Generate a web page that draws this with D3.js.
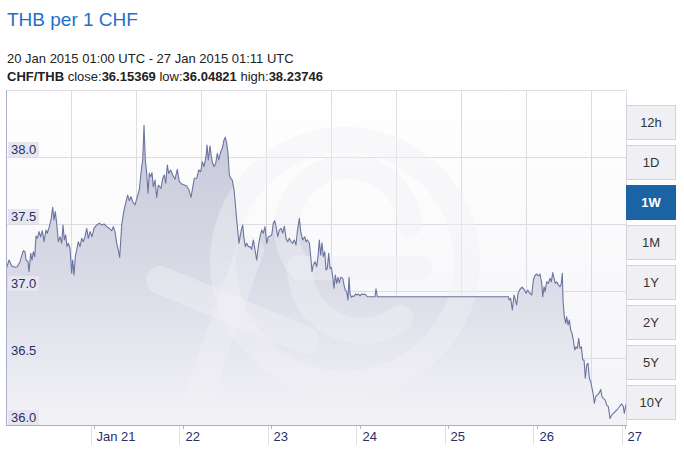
<!DOCTYPE html>
<html>
<head>
<meta charset="utf-8">
<script src="https://cdn.jsdelivr.net/npm/d3@7"></script>
<style>
  html, body { margin: 0; padding: 0; background: #fff; }
  svg { display: block; font-family: "Liberation Sans", Arial, sans-serif; }
</style>
</head>
<body>
<svg id="chart" width="684" height="449"></svg>
<script>
// ---------------- data ----------------
const titleText = "THB per 1 CHF";
const rangeText = "20 Jan 2015 01:00 UTC - 27 Jan 2015 01:11 UTC";
const pairName = "CHF/THB";
const closeValue = "36.15369";
const lowValue = "36.04821";
const highValue = "38.23746";
const startTime = Date.UTC(2015, 0, 20, 1, 0);
const endTime = Date.UTC(2015, 0, 27, 1, 11);

const hoursFromStart = [
  0, 0.81, 1.55, 2.44, 3.07, 3.80, 4.69, 5.15, 5.43, 5.97,
  6.24, 6.70, 7.05, 7.41, 7.79, 8.14, 8.49, 8.95, 9.41, 9.85,
  10.31, 10.85, 11.20, 11.75, 12.21, 12.67, 13.02, 13.37, 13.75, 14.19,
  14.65, 15.11, 15.46, 15.82, 16.20, 16.55, 16.90, 17.36, 17.82, 18.09,
  18.45, 18.80, 19.18, 19.61, 20.07, 20.54, 20.97, 21.43, 21.89, 22.33,
  22.79, 23.33, 23.87, 24.60, 25.31, 25.96, 26.59, 27.32, 28.02, 28.67,
  29.11, 29.57, 30.03, 30.46, 30.84, 31.39, 32.01, 32.55, 33.01, 33.45,
  33.91, 34.37, 35.00, 35.62, 36.16, 36.70, 37.08, 37.44, 37.79, 38.17,
  38.52, 38.87, 39.25, 39.61, 39.96, 40.42, 40.88, 41.32, 42.05, 42.51,
  42.94, 43.32, 43.76, 44.14, 44.68, 45.22, 45.85, 46.47, 47.01, 47.66,
  48.37, 49.02, 49.64, 50.19, 50.54, 51.08, 51.73, 52.28, 52.82, 53.25,
  53.71, 54.25, 54.53, 54.88, 55.34, 55.69, 56.07, 56.43, 56.89, 57.32,
  57.70, 58.24, 58.68, 59.14, 59.49, 59.87, 60.22, 60.58, 60.96, 61.39,
  61.85, 62.20, 62.59, 62.94, 63.21, 63.48, 63.83, 64.21, 64.56, 64.92,
  65.29, 65.73, 66.19, 66.65, 67.09, 67.55, 68.01, 68.44, 68.90, 69.36,
  69.80, 70.26, 70.72, 71.16, 71.62, 72.08, 72.51, 72.89, 73.24, 73.71,
  74.14, 74.60, 75.06, 75.50, 75.96, 76.42, 76.85, 77.31, 77.77, 78.21,
  78.67, 79.02, 79.57, 79.95, 80.49, 81.03, 81.38, 81.74, 82.28, 82.66,
  83.01, 83.36, 83.82, 84.28, 84.64, 84.99, 85.37, 85.72, 86.08, 86.46,
  86.81, 87.16, 87.54, 87.89, 88.25, 88.63, 88.98, 89.33, 89.71, 90.06,
  90.42, 90.80, 91.34, 91.69, 92.04, 92.42, 92.77, 93.05, 93.32, 93.67,
  94.05, 94.40, 94.76, 95.14, 95.57, 96.03, 96.49, 96.93, 97.47, 98.01,
  99.21, 100.10, 100.37, 100.72, 136.26, 136.53, 136.91, 137.35, 137.81, 138.17,
  138.54, 138.89, 139.44, 139.98, 140.52, 141.07, 141.53, 141.96, 142.61, 143.05,
  143.42, 143.97, 144.40, 144.86, 145.33, 145.60, 145.95, 146.22, 146.68, 147.11,
  147.58, 147.93, 148.31, 148.66, 149.01, 149.39, 149.83, 150.29, 150.64, 150.91,
  151.10, 151.45, 151.83, 152.10, 152.46, 152.81, 153.19, 153.54, 153.90, 154.28,
  154.63, 154.98, 155.36, 155.71, 156.07, 156.45, 156.80, 157.15, 157.53, 157.88,
  158.24, 158.62, 158.97, 159.32, 159.59, 159.97, 160.41, 160.87, 161.33, 161.68,
  162.04, 162.50, 162.96, 163.39, 163.85, 164.31, 164.74, 165.21, 165.67, 166.10,
  166.56, 167.02, 167.45, 167.73, 168.18
];

const rates = [
  37.157, 37.231, 37.187, 37.177, 37.181, 37.219, 37.301, 37.293, 37.231, 37.219,
  37.144, 37.281, 37.231, 37.293, 37.256, 37.410, 37.393, 37.443, 37.405, 37.450,
  37.368, 37.455, 37.431, 37.480, 37.530, 37.625, 37.530, 37.592, 37.505, 37.368,
  37.405, 37.356, 37.493, 37.381, 37.418, 37.331, 37.356, 37.319, 37.132, 37.231,
  37.119, 37.256, 37.306, 37.368, 37.331, 37.393, 37.368, 37.405, 37.468, 37.393,
  37.443, 37.405, 37.468, 37.493, 37.505, 37.493, 37.500, 37.480, 37.468, 37.450,
  37.480, 37.443, 37.356, 37.306, 37.251, 37.493, 37.604, 37.666, 37.716, 37.674,
  37.704, 37.666, 37.642, 37.704, 37.754, 37.903, 37.978, 38.237, 37.978, 37.878,
  37.729, 37.878, 37.853, 37.883, 37.778, 37.828, 37.699, 37.791, 37.766, 37.841,
  37.866, 37.804, 37.940, 37.878, 37.903, 37.866, 37.834, 37.908, 37.816, 37.799,
  37.791, 37.784, 37.754, 37.699, 37.754, 37.841, 37.841, 37.903, 37.890, 37.965,
  37.928, 38.002, 38.090, 37.978, 38.082, 38.002, 37.953, 37.928, 37.953, 38.028,
  37.978, 38.040, 38.065, 38.127, 38.147, 38.102, 38.028, 37.866, 37.841, 37.828,
  37.754, 37.654, 37.530, 37.431, 37.356, 37.405, 37.455, 37.493, 37.393, 37.331,
  37.356, 37.331, 37.331, 37.311, 37.381, 37.306, 37.231, 37.331, 37.405, 37.455,
  37.431, 37.480, 37.356, 37.405, 37.410, 37.418, 37.505, 37.525, 37.480, 37.405,
  37.455, 37.468, 37.431, 37.485, 37.393, 37.368, 37.393, 37.368, 37.356, 37.381,
  37.343, 37.443, 37.543, 37.443, 37.381, 37.405, 37.368, 37.381, 37.360, 37.256,
  37.144, 37.194, 37.219, 37.181, 37.256, 37.381, 37.269, 37.360, 37.256, 37.293,
  37.157, 37.169, 37.281, 37.169, 37.177, 37.107, 37.020, 37.119, 37.057, 37.102,
  37.062, 37.102, 37.095, 37.045, 37.007, 36.995, 36.933, 37.102, 36.983, 36.953,
  36.963, 36.958, 36.978, 36.970, 36.978, 36.963, 36.978, 36.975, 36.975, 36.957,
  36.957, 36.957, 37.017, 36.957, 36.957, 36.933, 36.945, 36.858, 36.970, 36.933,
  36.896, 36.983, 37.013, 37.028, 37.013, 36.983, 37.007, 36.987, 36.970, 37.082,
  37.112, 37.127, 37.112, 37.127, 37.057, 36.957, 37.032, 36.995, 37.069, 37.057,
  37.095, 37.069, 37.137, 37.095, 37.057, 37.069, 37.045, 37.032, 37.057, 37.132,
  36.933, 36.808, 36.759, 36.808, 36.746, 36.784, 36.709, 36.684, 36.634, 36.560,
  36.584, 36.572, 36.647, 36.572, 36.584, 36.485, 36.485, 36.349, 36.448, 36.460,
  36.349, 36.323, 36.274, 36.224, 36.162, 36.211, 36.224, 36.237, 36.266, 36.211,
  36.199, 36.187, 36.149, 36.137, 36.048, 36.075, 36.087, 36.099, 36.112, 36.125,
  36.142, 36.157, 36.137, 36.087, 36.154
];

const yTicks = [36.0, 36.5, 37.0, 37.5, 38.0];
const yDomain = [36.0, 38.5];
const dayTickLabels = ["Jan 21", "22", "23", "24", "25", "26", "27"];
const rangeButtons = ["12h", "1D", "1W", "1M", "1Y", "2Y", "5Y", "10Y"];
const selectedButton = "1W";

// ---------------- layout ----------------
const svg = d3.select("#chart");
const plot = { left: 6, right: 626, top: 90, bottom: 425 };

const data = hoursFromStart.map((h, i) => ({
  t: new Date(startTime + h * 3600e3),
  v: rates[i]
}));

const x = d3.scaleUtc().domain([new Date(startTime), new Date(endTime)]).range([plot.left, plot.right]);
const y = d3.scaleLinear().domain(yDomain).range([plot.bottom, plot.top]);

const defs = svg.append("defs");
const bgGrad = defs.append("linearGradient").attr("id", "bgGrad")
  .attr("gradientUnits", "userSpaceOnUse").attr("x1", 0).attr("x2", 0)
  .attr("y1", plot.top).attr("y2", plot.bottom);
bgGrad.append("stop").attr("offset", "0%").attr("stop-color", "#ffffff");
bgGrad.append("stop").attr("offset", "100%").attr("stop-color", "#f4f4f8");

const areaGrad = defs.append("linearGradient").attr("id", "areaGrad")
  .attr("gradientUnits", "userSpaceOnUse").attr("x1", 0).attr("x2", 0)
  .attr("y1", plot.top).attr("y2", plot.bottom);
areaGrad.append("stop").attr("offset", "0%").attr("stop-color", "#c2c5d7");
areaGrad.append("stop").attr("offset", "55%").attr("stop-color", "#d9dae6");
areaGrad.append("stop").attr("offset", "100%").attr("stop-color", "#f3f3f7");

defs.append("clipPath").attr("id", "plotClip").append("rect")
  .attr("x", plot.left).attr("y", plot.top)
  .attr("width", plot.right - plot.left).attr("height", plot.bottom - plot.top);

// ---------------- header ----------------
svg.append("text").attr("x", 7).attr("y", 26)
  .attr("font-size", 19).attr("fill", "#1f6fc6").text(titleText);

svg.append("text").attr("x", 7).attr("y", 63)
  .attr("font-size", 13).attr("fill", "#222").text(rangeText);

const info = svg.append("text").attr("x", 7).attr("y", 81)
  .attr("font-size", 13).attr("fill", "#222");
[[pairName, true], [" close:", false], [closeValue, true], [" low:", false],
 [lowValue, true], [" high:", false], [highValue, true]].forEach(([s, b]) => {
  info.append("tspan").attr("font-weight", b ? "bold" : "normal").text(s);
});

// ---------------- plot background & grid ----------------
svg.append("rect").attr("x", plot.left).attr("y", plot.top)
  .attr("width", plot.right - plot.left).attr("height", plot.bottom - plot.top)
  .attr("fill", "url(#bgGrad)");

const grid = svg.append("g").attr("stroke", "#dcdce2").attr("stroke-width", 1);
grid.selectAll("line.h").data(y.ticks(5).concat([yDomain[1]])).join("line")
  .attr("x1", plot.left).attr("x2", plot.right)
  .attr("y1", d => Math.round(y(d)) + 0.5).attr("y2", d => Math.round(y(d)) + 0.5);
const vGridStep = 65;
grid.selectAll("line.v").data(d3.range(plot.left + vGridStep, plot.right, vGridStep)).join("line")
  .attr("x1", d => Math.round(d) + 0.5).attr("x2", d => Math.round(d) + 0.5)
  .attr("y1", plot.top).attr("y2", plot.bottom);
grid.append("line").attr("x1", plot.right + 0.5).attr("x2", plot.right + 0.5)
  .attr("y1", plot.top).attr("y2", plot.bottom);

// ---------------- area & line ----------------
const g = svg.append("g").attr("clip-path", "url(#plotClip)");
g.append("path").datum(data)
  .attr("fill", "url(#areaGrad)")
  .attr("d", d3.area().x(d => x(d.t)).y0(plot.bottom).y1(d => y(d.v)));

// watermark (xe logo, very faint)
const wm = g.append("g").attr("fill", "none").attr("stroke", "rgba(240,240,245,0.42)").attr("stroke-linecap", "round");
wm.append("circle").attr("cx", 345).attr("cy", 262).attr("r", 122).attr("stroke-width", 26);
wm.append("path").attr("stroke-width", 24).attr("d", "M 420 268 L 300 268 A 62 62 0 1 1 410 225");
wm.append("path").attr("stroke-width", 26).attr("d", "M 300 268 A 62 62 0 0 0 400 318");
wm.append("line").attr("stroke-width", 28).attr("x1", 160).attr("y1", 280).attr("x2", 305).attr("y2", 340);
wm.append("line").attr("stroke-width", 28).attr("x1", 250).attr("y1", 250).attr("x2", 190).attr("y2", 420);

g.append("path").datum(data)
  .attr("fill", "none").attr("stroke", "#6c74a0").attr("stroke-width", 1.1)
  .attr("stroke-linejoin", "round")
  .attr("d", d3.line().x(d => x(d.t)).y(d => y(d.v)));

// ---------------- axes ----------------
svg.append("line").attr("x1", plot.left + 0.5).attr("x2", plot.left + 0.5)
  .attr("y1", plot.top).attr("y2", plot.bottom).attr("stroke", "#a8aecb");
svg.append("line").attr("x1", plot.left).attr("x2", plot.right + 1)
  .attr("y1", plot.bottom + 0.5).attr("y2", plot.bottom + 0.5).attr("stroke", "#a8aecb");

// y labels with boxes
const yLab = svg.append("g");
yTicks.forEach(v => {
  const yy = Math.round(y(v));
  yLab.append("rect").attr("x", 8).attr("y", yy - 15).attr("width", 31).attr("height", 15)
    .attr("fill", "#e6e6f0");
  yLab.append("text").attr("x", 11).attr("y", yy - 3).attr("font-size", 13)
    .attr("fill", "#2d2d66").text(d3.format(".1f")(v));
});

// day ticks
const days = d3.utcDay.range(d3.utcDay.ceil(new Date(startTime)), new Date(endTime));
const xAxis = svg.append("g");
days.forEach((d, i) => {
  const xx = Math.round(x(d)) + 0.5;
  xAxis.append("line").attr("x1", xx).attr("x2", xx).attr("y1", plot.bottom + 1).attr("y2", 445)
    .attr("stroke", "#dedee4");
  const xt = Math.round(x(new Date(+d + 3600e3))) + 0.5;
  xAxis.append("line").attr("x1", xt).attr("x2", xt).attr("y1", plot.bottom + 1).attr("y2", plot.bottom + 4)
    .attr("stroke", "#b0b4cc");
  xAxis.append("text").attr("x", xt + 2).attr("y", 441).attr("font-size", 13)
    .attr("fill", "#2d2d66").text(dayTickLabels[i]);
});

// ---------------- range buttons ----------------
const btn = svg.append("g");
rangeButtons.forEach((b, i) => {
  const by = 105 + i * 40;
  const sel = b === selectedButton;
  btn.append("rect").attr("x", 626.5).attr("y", by + 0.5).attr("width", 49).attr("height", 34)
    .attr("fill", sel ? "#1c63a6" : "#f0f0f4").attr("stroke", sel ? "#1c63a6" : "#d2d2da");
  btn.append("text").attr("x", 651).attr("y", by + 22).attr("text-anchor", "middle")
    .attr("font-size", 13).attr("font-weight", sel ? "bold" : "normal")
    .attr("fill", sel ? "#ffffff" : "#333").text(b);
});
</script>
</body>
</html>
